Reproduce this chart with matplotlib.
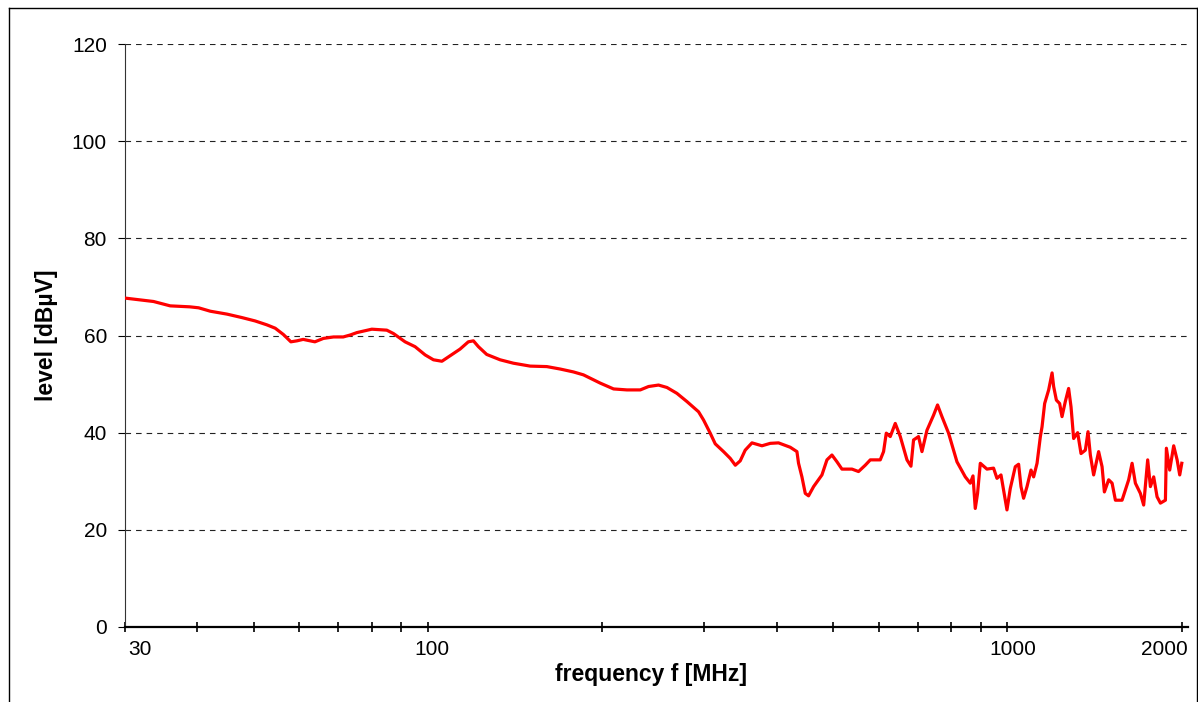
import matplotlib
matplotlib.use("Agg")
import matplotlib.pyplot as plt
from matplotlib.lines import Line2D

plt.rcParams['font.family'] = ['Liberation Sans', 'DejaVu Sans']

freq_mhz = [30.0, 33.6, 35.9, 38.8, 40.2, 42.1, 45.0, 47.7, 50.3, 52.7, 54.5, 56.3, 58.0, 59.4, 60.9, 62.6, 63.8, 66.0, 68.7, 71.4, 73.4,
            75.4, 80.0, 84.9, 87.2, 91.3, 95.0, 98.9, 102.2, 105.7, 108.5, 113.6, 117.4, 119.8, 122.2, 126.3, 133.2, 140.4, 150.1, 160.4, 169.1, 178.3,
            185.5, 198.3, 209.1, 220.5, 232.5, 240.3, 250.0, 258.5, 268.9, 279.9, 293.1, 299.0, 307.0, 313.2, 323.7, 332.5, 339.2, 345.9, 352.8,
            362.4, 377.1, 389.7, 402.7, 421.9, 433.3, 436.1, 442.0, 447.9, 453.8,
            463.0, 478.6, 488.2, 498.0, 508.1, 518.2, 539.3, 553.5, 568.5, 580.0, 603.4, 611.4, 618.0, 627.9, 640.5, 653.4, 671.0, 681.7, 688.8,
            702.6, 712.2, 726.5, 745.8, 757.7, 771.1, 791.6, 818.5, 846.0, 863.0, 872.3, 880.2, 888.3, 898.0, 922.1, 946.6, 959.5, 975.0, 985.1,
            998.4, 1011.6,
            1032.0, 1045.7, 1055.6, 1066.6, 1081.2, 1098.5, 1110.0, 1125.2, 1140.1, 1147.7, 1159.7, 1178.3, 1194.4, 1201.9, 1215.0, 1230.9,
            1242.6, 1258.9, 1275.6, 1287.9, 1301.3, 1322.2, 1340.0, 1363.3, 1377.9, 1390.6, 1409.0, 1437.2, 1456.9, 1470.4, 1495.7, 1516.2,
            1536.2, 1577.4, 1619.4, 1641.5, 1663.2, 1696.5, 1718.9, 1746.5, 1765.5, 1788.8, 1812.9, 1837.2, 1874.0, 1881.3, 1906.2, 1936.7,
            1963.2, 1983.7, 2000.0]

level_dbuv = [67.7, 67.0, 66.1, 65.9, 65.7, 65.0, 64.4, 63.7, 63.0, 62.2, 61.5, 60.2, 58.7, 58.9, 59.2, 58.9, 58.7, 59.4, 59.7, 59.7, 60.1,
              60.6, 61.3, 61.1, 60.4, 58.7, 57.7, 56.0, 55.0, 54.7, 55.6, 57.2, 58.7, 58.9, 57.7, 56.1, 55.0, 54.3, 53.7, 53.6, 53.1, 52.5,
              51.9, 50.2, 49.0, 48.8, 48.8, 49.5, 49.8, 49.3, 48.1, 46.4, 44.3, 42.6, 39.9, 37.7, 36.1, 34.7, 33.3, 34.2, 36.4,
              37.9, 37.3, 37.8, 37.9, 37.0, 36.1, 33.7, 30.9, 27.5, 27.0,
              28.9, 31.3, 34.4, 35.4, 34.0, 32.5, 32.5, 32.0, 33.3, 34.4, 34.4, 36.1, 39.9, 39.2, 41.9, 39.2, 34.4, 33.1, 38.5,
              39.2, 36.1, 40.5, 43.6, 45.7, 43.3, 39.9, 34.0, 30.9, 29.6, 31.1, 24.4, 27.5, 33.7, 32.5, 32.7, 30.6, 31.3, 28.2,
              24.1, 28.5,
              33.0, 33.5, 28.9, 26.5, 28.9, 32.3, 30.9, 33.7, 39.2, 41.2, 46.0, 48.8, 52.3, 49.5, 46.7, 46.0,
              43.3, 46.4, 49.1, 45.3, 38.8, 40.0, 35.7, 36.4, 40.2, 35.4, 31.3, 36.1, 33.0, 27.8, 30.3, 29.6,
              26.1, 26.1, 30.3, 33.7, 29.6, 27.5, 25.1, 34.4, 28.9, 30.9, 26.8, 25.5, 26.1, 36.8, 32.3, 37.3,
              34.4, 31.3, 33.7]

x_ticks = [30, 40, 50, 60, 70, 80, 90, 100, 200, 300, 400, 500, 600, 700, 800, 900, 1000, 2000]
x_labels = {30: "30", 100: "100", 1000: "1000", 2000: "2000"}
y_ticks = [0, 20, 40, 60, 80, 100, 120]

W, H = 1198, 702
fig = plt.figure(figsize=(W / 100, H / 100), dpi=100)
ax = fig.add_axes([125 / W, 1 - 627 / H, (1188 - 125) / W, (627 - 44) / H])

ax.plot(freq_mhz, level_dbuv, color='#ff0000', lw=2.3, solid_joinstyle='round', zorder=3)

ax.set_xscale('log')
ax.set_xlim(30, 2050)
ax.set_ylim(0, 120)
ax.set_xticks(x_ticks)
ax.set_xticklabels([''] * len(x_ticks))
ax.minorticks_off()
ax.set_yticks(y_ticks)
ax.set_yticklabels([str(v) for v in y_ticks], fontsize=15)

ax.tick_params(axis='y', direction='out', length=5, width=0.8, pad=8, color='black')
ax.tick_params(axis='x', direction='inout', length=7.5, width=1.2, color='black')

for s in ['top', 'right']:
    ax.spines[s].set_visible(False)
ax.spines['left'].set_linewidth(0.8)
ax.spines['left'].set_color('#333333')
ax.spines['bottom'].set_linewidth(1.6)
ax.spines['bottom'].set_color('black')

for v in y_ticks[1:]:
    ax.axhline(v, color='#222222', lw=0.8, ls=(0, (5, 4.5)), zorder=1)

offsets = {30: 10.8, 100: 2.9, 1000: 3.6, 2000: -12.6}
for f, lab in x_labels.items():
    ax.annotate(lab, xy=(f, 0), xycoords=('data', 'axes fraction'),
                xytext=(offsets[f], -9.5), textcoords='offset points',
                ha='center', va='top', fontsize=15)

fig.text(651 / W, 1 - 675 / H, "frequency f [MHz]", ha='center', va='center',
         fontsize=16.5, fontweight='bold')
fig.text(47 / W, 1 - 335 / H, "level [dBµV]", ha='center', va='center',
         rotation=90, fontsize=16.5, fontweight='bold')

# outer frame
fx0, fx1 = 8.5 / W, 1196.5 / W
fy1 = 1 - 7.5 / H
for xs, ys in [([fx0, fx1], [fy1, fy1]), ([fx0, fx0], [0, fy1]), ([fx1, fx1], [0, fy1])]:
    fig.add_artist(Line2D(xs, ys, transform=fig.transFigure, color='black', lw=1.0))

fig.savefig('out.png', dpi=100)
